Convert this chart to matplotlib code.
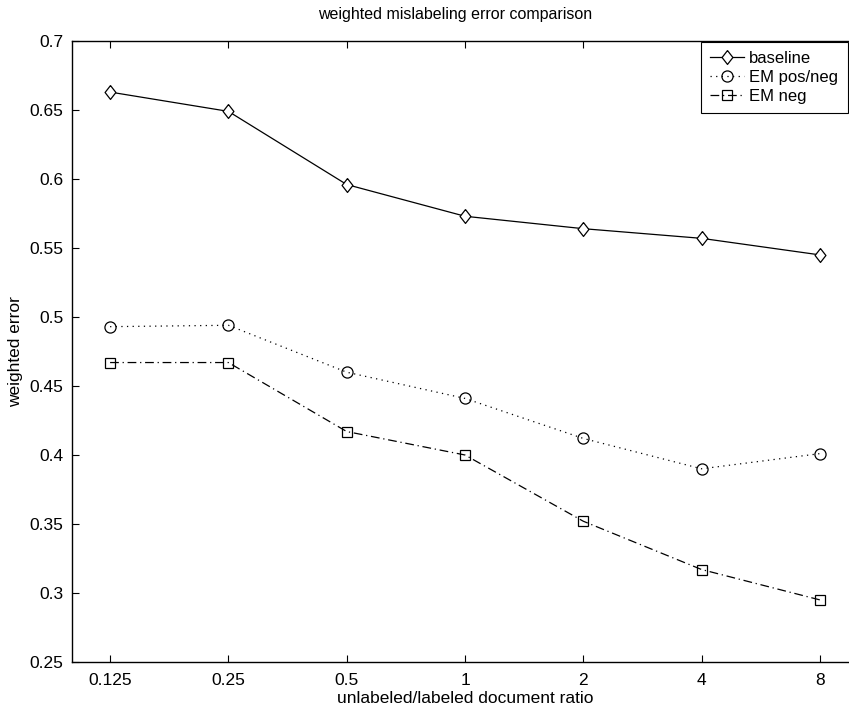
import matplotlib
matplotlib.use('Agg')
from matplotlib import pyplot as plt
from matplotlib.ticker import FixedLocator, FixedFormatter, NullLocator

plt.rcParams['font.family'] = ['Liberation Sans', 'DejaVu Sans']

ratios = [0.125, 0.25, 0.5, 1, 2, 4, 8]
ratio_labels = ['0.125', '0.25', '0.5', '1', '2', '4', '8']
baseline = [0.663, 0.649, 0.596, 0.573, 0.564, 0.557, 0.545]
em_posneg = [0.493, 0.494, 0.460, 0.441, 0.412, 0.390, 0.401]
em_neg = [0.467, 0.467, 0.417, 0.400, 0.352, 0.317, 0.295]
y_ticks = [0.25, 0.3, 0.35, 0.4, 0.45, 0.5, 0.55, 0.6, 0.65, 0.7]

# matlab-style diamond, a bit taller than wide
DIAMOND = [(0, 1), (0.78, 0), (0, -1), (-0.78, 0), (0, 1)]


def main():
    W, H = 849, 707
    fig = plt.figure(figsize=(W / 100, H / 100), dpi=100)
    # right edge of the axes falls outside the cropped picture
    ax = fig.add_axes([72 / W, 45 / H, (858 - 72) / W, (662 - 41) / H])

    ax.plot(ratios, baseline, color='black', lw=0.9, ls='-',
            marker=DIAMOND, ms=10, mfc='white', mec='black', mew=0.9, label='baseline')
    ax.plot(ratios, em_posneg, color='black', lw=0.9, ls=(0, (1, 3.5)),
            marker='o', ms=8, mfc='none', mec='black', mew=0.9, label='EM pos/neg')
    ax.plot(ratios, em_neg, color='black', lw=0.9, ls=(0, (7, 3, 1, 3)),
            marker='s', ms=6.5, mfc='none', mec='black', mew=0.9, label='EM neg')

    ax.set_xscale('log', base=2)
    ax.set_xlim(0.1, 10)
    ax.set_ylim(0.25, 0.7)
    ax.xaxis.set_major_locator(FixedLocator(ratios))
    ax.xaxis.set_major_formatter(FixedFormatter(ratio_labels))
    ax.xaxis.set_minor_locator(NullLocator())
    ax.set_yticks(y_ticks)
    ax.set_yticklabels([f'{v:g}' for v in y_ticks])
    ax.tick_params(direction='in', length=5, width=0.8, top=True, right=True,
                   labelsize=12.5)
    ax.tick_params(axis='x', pad=8)
    ax.tick_params(axis='y', pad=6)
    for s in ax.spines.values():
        s.set_linewidth(1.0)

    ax.set_xlabel('unlabeled/labeled document ratio', fontsize=12.5, labelpad=2)
    ax.set_ylabel('weighted error', fontsize=12.5, labelpad=5)
    fig.text(455 / W, 1 - 14 / H, 'weighted mislabeling error comparison',
             ha='center', va='center', fontsize=11.5)

    leg = ax.legend(loc='upper left', bbox_to_anchor=(701 / W, 1 - 42 / H),
                    bbox_transform=fig.transFigure, fontsize=12, frameon=True,
                    fancybox=False, edgecolor='black', framealpha=1,
                    borderpad=0.55, labelspacing=0.22, handlelength=2.0,
                    handletextpad=0.35, borderaxespad=0)
    leg.get_frame().set_linewidth(0.8)

    fig.savefig('out.png', dpi=100)


if __name__ == '__main__':
    main()
